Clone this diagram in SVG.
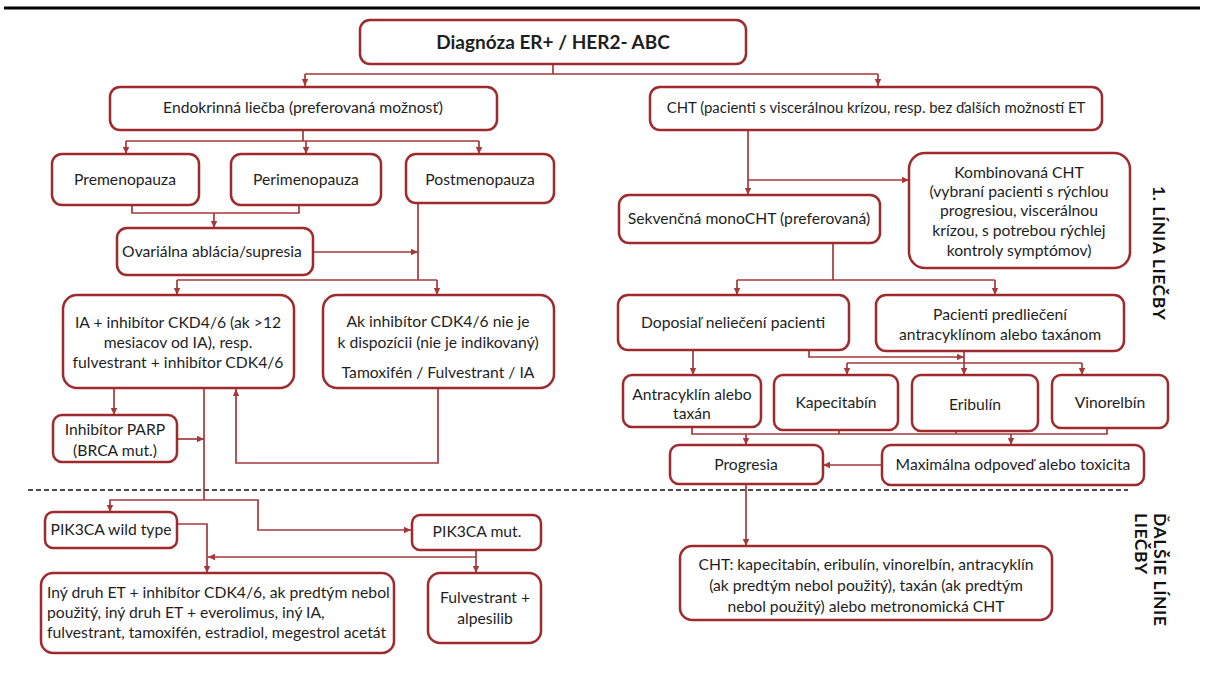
<svg xmlns="http://www.w3.org/2000/svg" width="1212" height="687" viewBox="0 0 1212 687">
<style>
.box{fill:#fff;stroke:#9e2a2d;stroke-width:2.5}
.t{font-family:Lato,"Liberation Sans",sans-serif;font-size:15.7px;fill:#1e1e1e;text-anchor:middle}
.l{text-anchor:start}
.b{font-weight:bold}
.c{fill:none;stroke:#a5383b;stroke-width:1.7}
.a{marker-end:url(#ah)}
.lab{font-family:Lato,"Liberation Sans",sans-serif;font-size:17.5px;font-weight:bold;fill:#111;letter-spacing:0.6px}
</style>
<defs>
<marker id="ah" markerUnits="userSpaceOnUse" markerWidth="8" markerHeight="8" refX="7" refY="4" orient="auto">
<path d="M0,0.8 L7,4 L0,7.2 z" fill="#a5383b"/>
</marker>
</defs>
<rect width="1212" height="687" fill="#fff"/>
<line x1="4" y1="8" x2="1200" y2="8" stroke="#000" stroke-width="3"/>
<line x1="28" y1="490" x2="1128" y2="490" stroke="#111" stroke-width="1.6" stroke-dasharray="5,3"/>

<g id="connectors">
<path class="c" d="M553 64 V74"/>
<path class="c" d="M305 74 H878"/>
<path class="c a" d="M305 74 V86"/>
<path class="c a" d="M878 74 V86"/>
<path class="c" d="M303 130 V141"/>
<path class="c" d="M126 141 H479"/>
<path class="c a" d="M126 141 V154"/>
<path class="c a" d="M306 141 V154"/>
<path class="c a" d="M479 141 V154"/>
<path class="c" d="M132 205 V213 H299 V205"/>
<path class="c a" d="M214 213 V228"/>
<path class="c a" d="M313 252 H418"/>
<path class="c" d="M418 203 V280"/>
<path class="c" d="M177 280 H437"/>
<path class="c a" d="M177 280 V295"/>
<path class="c a" d="M437 280 V295"/>
<path class="c a" d="M114 388 V415"/>
<path class="c" d="M204 388 V500"/>
<path class="c a" d="M177 439 H204"/>
<path class="c a" d="M438 388 V463 H236 V389"/>
<path class="c a" d="M204 500 H110 V512"/>
<path class="c a" d="M204 500 H258 V530 H411"/>
<path class="c a" d="M177 524 H207 V573"/>
<path class="c a" d="M476 550 V573"/>
<path class="c a" d="M476 557 H208"/>
<path class="c a" d="M748 130 V195"/>
<path class="c a" d="M748 180 H909"/>
<path class="c" d="M833 243 V280"/>
<path class="c" d="M737 280 H995"/>
<path class="c a" d="M737 280 V295"/>
<path class="c a" d="M995 280 V295"/>
<path class="c a" d="M693 350 V375"/>
<path class="c a" d="M809 350 V357 H964"/>
<path class="c a" d="M964 352 V375"/>
<path class="c" d="M847 363 H1082"/>
<path class="c a" d="M847 363 V375"/>
<path class="c a" d="M1082 363 V375"/>
<path class="c" d="M692 426 V434 H1107 V428"/>
<path class="c" d="M839 430 V434"/>
<path class="c" d="M956 431 V434"/>
<path class="c a" d="M746 434 V445"/>
<path class="c a" d="M1011 434 V445"/>
<path class="c a" d="M882 465 H823"/>
<path class="c a" d="M746 484 V546"/>
</g>

<g id="n-diag"><rect class="box" x="360" y="20" width="386" height="44" rx="10"/><text class="t b" x="553" y="49" style="font-size:19px">Diagnóza ER+ / HER2- ABC</text></g>
<g id="n-endo"><rect class="box" x="110" y="87" width="387" height="43" rx="10"/><text class="t" x="303" y="113">Endokrinná liečba (preferovaná možnosť)</text></g>
<g id="n-cht"><rect class="box" x="650" y="87" width="452" height="43" rx="10"/><text class="t" x="876" y="113" style="font-size:14.9px">CHT (pacienti s viscerálnou krízou, resp. bez ďalších možností ET</text></g>
<g id="n-pre"><rect class="box" x="52" y="154" width="147" height="51" rx="10"/><text class="t" x="125" y="185">Premenopauza</text></g>
<g id="n-peri"><rect class="box" x="231" y="154" width="150" height="51" rx="10"/><text class="t" x="306" y="185">Perimenopauza</text></g>
<g id="n-post"><rect class="box" x="406" y="154" width="148" height="49" rx="10"/><text class="t" x="480" y="185">Postmenopauza</text></g>
<g id="n-ovar"><rect class="box" x="117" y="228" width="196" height="47" rx="10"/><text class="t" x="212" y="257">Ovariálna ablácia/supresia</text></g>
<g id="n-ia"><rect class="box" x="63" y="295" width="231" height="93" rx="14"/>
<text class="t" x="178" y="328">IA + inhibítor CKD4/6 (ak &gt;12</text>
<text class="t" x="178" y="348">mesiacov od IA), resp.</text>
<text class="t" x="178" y="368">fulvestrant + inhibítor CDK4/6</text></g>
<g id="n-ak"><rect class="box" x="323" y="295" width="231" height="93" rx="14"/>
<text class="t" x="438" y="327">Ak inhibítor CDK4/6 nie je</text>
<text class="t" x="438" y="348">k dispozícii (nie je indikovaný)</text>
<text class="t" x="438" y="378">Tamoxifén / Fulvestrant / IA</text></g>
<g id="n-parp"><rect class="box" x="53" y="415" width="124" height="47" rx="9"/>
<text class="t" x="115" y="435">Inhibítor PARP</text>
<text class="t" x="115" y="456">(BRCA mut.)</text></g>
<g id="n-wild"><rect class="box" x="45" y="512" width="132" height="36" rx="8"/><text class="t" x="111" y="535">PIK3CA wild type</text></g>
<g id="n-mut"><rect class="box" x="412" y="515" width="129" height="35" rx="8"/><text class="t" x="477" y="537">PIK3CA mut.</text></g>
<g id="n-iny"><rect class="box" x="41" y="573" width="353" height="80" rx="12"/>
<text class="t l" x="47" y="598">Iný druh ET + inhibítor CDK4/6, ak predtým nebol</text>
<text class="t l" x="47" y="618">použitý, iný druh ET + everolimus, iný IA,</text>
<text class="t l" x="47" y="638">fulvestrant, tamoxifén, estradiol, megestrol acetát</text></g>
<g id="n-fulv"><rect class="box" x="428" y="573" width="113" height="70" rx="12"/>
<text class="t" x="485" y="603">Fulvestrant +</text>
<text class="t" x="485" y="624">alpesilib</text></g>
<g id="n-sekv"><rect class="box" x="619" y="195" width="261" height="48" rx="10"/><text class="t" x="749" y="224">Sekvenčná monoCHT (preferovaná)</text></g>
<g id="n-komb"><rect class="box" x="909" y="153" width="221" height="115" rx="16"/>
<text class="t" x="1019" y="178">Kombinovaná CHT</text>
<text class="t" x="1019" y="197">(vybraní pacienti s rýchlou</text>
<text class="t" x="1019" y="216">progresiou, viscerálnou</text>
<text class="t" x="1019" y="236">krízou, s potrebou rýchlej</text>
<text class="t" x="1019" y="256">kontroly symptómov)</text></g>
<g id="n-dopo"><rect class="box" x="618" y="295" width="231" height="55" rx="10"/><text class="t" x="733" y="328">Doposiaľ neliečení pacienti</text></g>
<g id="n-pred"><rect class="box" x="876" y="295" width="248" height="56" rx="10"/>
<text class="t" x="1000" y="320">Pacienti predliečení</text>
<text class="t" x="1000" y="340">antracyklínom alebo taxánom</text></g>
<g id="n-antr"><rect class="box" x="623" y="375" width="138" height="52" rx="9"/>
<text class="t" x="692" y="400">Antracyklín alebo</text>
<text class="t" x="692" y="419">taxán</text></g>
<g id="n-kape"><rect class="box" x="774" y="375" width="124" height="55" rx="9"/><text class="t" x="836" y="408">Kapecitabín</text></g>
<g id="n-erib"><rect class="box" x="912" y="375" width="126" height="56" rx="9"/><text class="t" x="975" y="410">Eribulín</text></g>
<g id="n-vino"><rect class="box" x="1052" y="375" width="116" height="53" rx="9"/><text class="t" x="1110" y="408">Vinorelbín</text></g>
<g id="n-prog"><rect class="box" x="670" y="445" width="153" height="39" rx="9"/><text class="t" x="746" y="470">Progresia</text></g>
<g id="n-max"><rect class="box" x="882" y="445" width="262" height="40" rx="9"/><text class="t" x="1013" y="470">Maximálna odpoveď alebo toxicita</text></g>
<g id="n-cht2"><rect class="box" x="680" y="546" width="372" height="74" rx="12"/>
<text class="t" x="866" y="570">CHT: kapecitabín, eribulín, vinorelbín, antracyklín</text>
<text class="t" x="866" y="591">(ak predtým nebol použitý), taxán (ak predtým</text>
<text class="t" x="866" y="612">nebol použitý) alebo metronomická CHT</text></g>

<g id="labels">
<text class="lab" transform="translate(1153 186) rotate(90)">1. LÍNIA LIEČBY</text>
<text class="lab" transform="translate(1154 513) rotate(90)">ĎALŠIE LÍNIE</text>
<text class="lab" transform="translate(1135 513) rotate(90)">LIEČBY</text>
</g>
</svg>
